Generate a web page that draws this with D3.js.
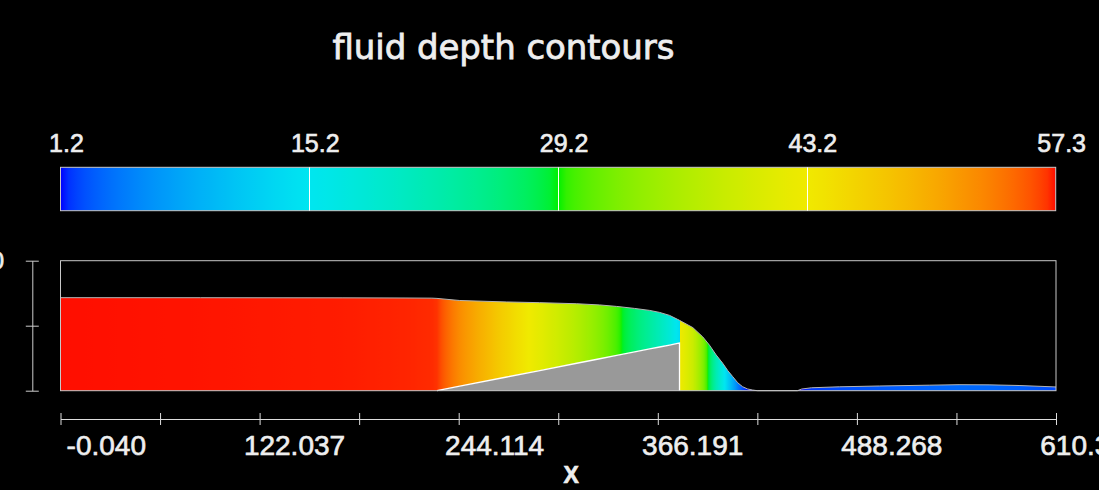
<!DOCTYPE html>
<html>
<head>
<meta charset="utf-8">
<script src="https://cdn.jsdelivr.net/npm/d3@7"></script>
<style>
  html, body { margin: 0; padding: 0; background: #000; overflow: hidden; }
  svg { display: block; }
  text { font-family: "Liberation Sans", Arial, Helvetica, sans-serif; fill: #eeeeee;
         stroke: #eeeeee; stroke-width: 0.65px; paint-order: stroke; }
</style>
</head>
<body>
<svg id="chart" width="1099" height="490"></svg>
<script>
// ---- data -------------------------------------------------------------
const chartTitle = "fluid depth contours";
const xAxisTitle = "X";

// stations along the channel (x), free-surface elevation and bed elevation
const stationX = [-0.04, 85.7, 172.6, 211.2, 227.7, 230.8, 244.8, 273.6, 293.8, 316.5,
  330.6, 341.0, 352.0, 361.2, 367.3, 373.4, 378.3, 379.5, 379.5, 387.7,
  393.8, 397.9, 402.0, 406.0, 409.1, 412.1, 415.2, 418.2, 421.3, 424.3,
  427.2, 451.8, 454.3, 460.4, 477.5, 502.0, 532.6, 550.9, 569.3, 587.7,
  603.0, 610.345];
const surface = [57.25, 57.22, 57.15, 57.05, 56.95, 56.8, 55.5, 54.61, 54.18, 53.51,
  52.77, 51.86, 50.63, 49.41, 48.18, 46.35, 43.9, 43.29, 43.29, 38.81,
  33.06, 27.98, 21.98, 16.9, 12.37, 8.69, 4.9, 2.45, 1.04, 0.43,
  0, 0, 1.0, 1.8, 2.4, 2.9, 3.4, 3.7, 3.6, 3.2,
  2.6, 2.3];
const bed = [0, 0, 0, 0, 0, 0, 2.76, 8.43, 12.41, 16.89,
  19.66, 21.71, 23.88, 25.69, 26.9, 28.1, 29.06, 29.3, 0, 0,
  0, 0, 0, 0, 0, 0, 0, 0, 0, 0,
  0, 0, 0, 0, 0, 0, 0, 0, 0, 0,
  0, 0];

// colour legend
const depthDomain = [1.2, 57.26];
const legendTickValues = [1.2, 15.215, 29.23, 43.245, 57.26];
const legendTickLabels = ["1.2", "15.2", "29.2", "43.2", "57.3"];
const legendColors = ["#0000ff", "#00e6f0", "#00f000", "#f0ea00", "#ff0c00"];

// axes
const xDomain = [-0.04, 610.345];
const xMajorTicks = [-0.040, 122.037, 244.114, 366.191, 488.268, 610.345];
const xTickLabels = ["-0.040", "122.037", "244.114", "366.191", "488.268", "610.345"];
const yDomain = [0, 80];
const yTicks = [0, 40, 80];
const yTopLabel = "80";

// ---- setup ------------------------------------------------------------
const svg = d3.select("#chart");
svg.append("rect").attr("width", 1099).attr("height", 490).attr("fill", "#000");
const defs = svg.append("defs");

const xScale = d3.scaleLinear().domain(xDomain).range([60.5, 1056]);
const yScale = d3.scaleLinear().domain(yDomain).range([390.7, 260.7]);
const color = d3.scaleLinear()
  .domain(legendTickValues)
  .range(legendColors)
  .interpolate(d3.interpolateRgb.gamma(2.2))
  .clamp(true);

// ---- title ------------------------------------------------------------
svg.append("text")
  .attr("x", 503.4).attr("y", 59.3)
  .attr("text-anchor", "middle")
  .style("font-family", "'DejaVu Sans', 'Liberation Sans', sans-serif")
  .style("stroke-width", "0.8px")
  .attr("font-size", 34)
  .attr("textLength", 342)
  .attr("lengthAdjust", "spacing")
  .text(chartTitle);

// ---- colour bar -------------------------------------------------------
const cbScale = d3.scaleLinear().domain(depthDomain).range([60.5, 1055.7]);
const cbTop = 167.3, cbBottom = 210.7;
const cbGrad = defs.append("linearGradient").attr("id", "cbGrad")
  .attr("gradientUnits", "userSpaceOnUse")
  .attr("x1", cbScale.range()[0]).attr("x2", cbScale.range()[1])
  .attr("y1", 0).attr("y2", 0);
const nCb = 120;
d3.range(nCb + 1).forEach(i => {
  const v = depthDomain[0] + (depthDomain[1] - depthDomain[0]) * i / nCb;
  cbGrad.append("stop").attr("offset", i / nCb).attr("stop-color", color(v));
});
svg.append("rect")
  .attr("x", cbScale.range()[0]).attr("y", cbTop)
  .attr("width", cbScale.range()[1] - cbScale.range()[0])
  .attr("height", cbBottom - cbTop)
  .attr("fill", "url(#cbGrad)")
  .attr("stroke", "#c8c8c8").attr("stroke-width", 1);
svg.append("g").selectAll("line")
  .data(legendTickValues.slice(1, -1))
  .join("line")
  .attr("x1", d => Math.round(cbScale(d)) + 0.5)
  .attr("x2", d => Math.round(cbScale(d)) + 0.5)
  .attr("y1", cbTop).attr("y2", cbBottom)
  .attr("stroke", "#ffffff").attr("stroke-width", 1);
svg.append("g").selectAll("text")
  .data(legendTickValues)
  .join("text")
  .attr("x", d => cbScale(d) + 6)
  .attr("y", 152.3)
  .attr("text-anchor", "middle")
  .attr("font-size", 25)
  .text((d, i) => legendTickLabels[i]);

// ---- fluid and bed ----------------------------------------------------
const pts = stationX.map((x, i) => ({ x, s: surface[i], b: bed[i], d: surface[i] - bed[i] }));

// horizontal gradient carrying the depth colour of every column
const fx0 = xScale(xDomain[0]), fx1 = xScale(xDomain[1]);
const fluidGrad = defs.append("linearGradient").attr("id", "fluidGrad")
  .attr("gradientUnits", "userSpaceOnUse")
  .attr("x1", fx0).attr("x2", fx1).attr("y1", 0).attr("y2", 0);
const sub = 12;
for (let i = 0; i < pts.length - 1; i++) {
  const a = pts[i], c = pts[i + 1];
  const steps = a.x === c.x ? 1 : sub;
  for (let k = 0; k <= steps; k++) {
    const t = k / steps;
    const px = xScale(a.x + (c.x - a.x) * t);
    const dv = a.d + (c.d - a.d) * t;
    fluidGrad.append("stop")
      .attr("offset", (px - fx0) / (fx1 - fx0))
      .attr("stop-color", color(dv));
  }
}

const fluidArea = d3.area()
  .x(d => xScale(d.x))
  .y0(d => yScale(d.b))
  .y1(d => yScale(d.s));
svg.append("path").datum(pts)
  .attr("d", fluidArea)
  .attr("fill", "url(#fluidGrad)");

const bedArea = d3.area()
  .x(d => xScale(d.x))
  .y0(yScale(0))
  .y1(d => yScale(d.b));
svg.append("path").datum(pts)
  .attr("d", bedArea)
  .attr("fill", "#999999");

const surfLine = d3.line().x(d => xScale(d.x)).y(d => yScale(d.s));
svg.append("path").datum(pts)
  .attr("d", surfLine)
  .attr("fill", "none")
  .attr("stroke", "#b4b4b4").attr("stroke-width", 1);

const bedEdge = pts.filter((d, i) => d.b > 0 ||
  (pts[i + 1] && pts[i + 1].b > 0) || (pts[i - 1] && pts[i - 1].b > 0));
const bedLine = d3.line().x(d => xScale(d.x)).y(d => yScale(d.b));
svg.append("path").datum(bedEdge)
  .attr("d", bedLine)
  .attr("fill", "none")
  .attr("stroke", "#ffffff").attr("stroke-width", 1.3);

// plot frame
svg.append("rect")
  .attr("x", 60.5).attr("y", 260.7)
  .attr("width", 1056 - 60.5).attr("height", 390.7 - 260.7)
  .attr("fill", "none")
  .attr("stroke", "#c8c8c8").attr("stroke-width", 1);

// ---- y axis -----------------------------------------------------------
const yAxisG = svg.append("g").attr("transform", "translate(32.3,0)")
  .call(d3.axisLeft(yScale).tickValues(yTicks).tickSizeInner(6.5).tickSizeOuter(0).tickFormat(""));
yAxisG.select(".domain").attr("stroke", "#cccccc");
yAxisG.selectAll(".tick line").attr("x1", 6.5).attr("stroke", "#cccccc");
svg.append("text")
  .attr("x", 4).attr("y", yScale(yDomain[1]) + 8.5)
  .attr("text-anchor", "end")
  .attr("font-size", 24)
  .text(yTopLabel);

// ---- x axis -----------------------------------------------------------
const minorTicks = d3.pairs(xMajorTicks).map(([a, b]) => (a + b) / 2);
const allTicks = xMajorTicks.concat(minorTicks).sort((a, b) => a - b);
const xAxisY = 419;
const xAxisG = svg.append("g").attr("transform", `translate(0,${xAxisY})`)
  .call(d3.axisBottom(xScale)
    .tickValues(allTicks)
    .tickSizeInner(6).tickSizeOuter(0)
    .tickFormat(d => {
      const i = xMajorTicks.indexOf(d);
      return i >= 0 ? xTickLabels[i] : "";
    }));
xAxisG.attr("font-size", null).attr("font-family", null);
xAxisG.select(".domain").attr("stroke", "#dddddd");
xAxisG.selectAll(".tick line").attr("y1", -6).attr("stroke", "#dddddd");
xAxisG.selectAll(".tick text")
  .attr("fill", "#eeeeee")
  .attr("font-size", 28)
  .attr("dy", null)
  .attr("y", 455 - xAxisY)
  .attr("x", 85)
  .attr("text-anchor", "end");

svg.append("text")
  .attr("x", (xScale.range()[0] + xScale.range()[1]) / 2 + 13)
  .attr("y", 482.7)
  .attr("text-anchor", "middle")
  .attr("font-size", 23)
  .attr("font-weight", "bold")
  .text(xAxisTitle);
</script>
</body>
</html>
